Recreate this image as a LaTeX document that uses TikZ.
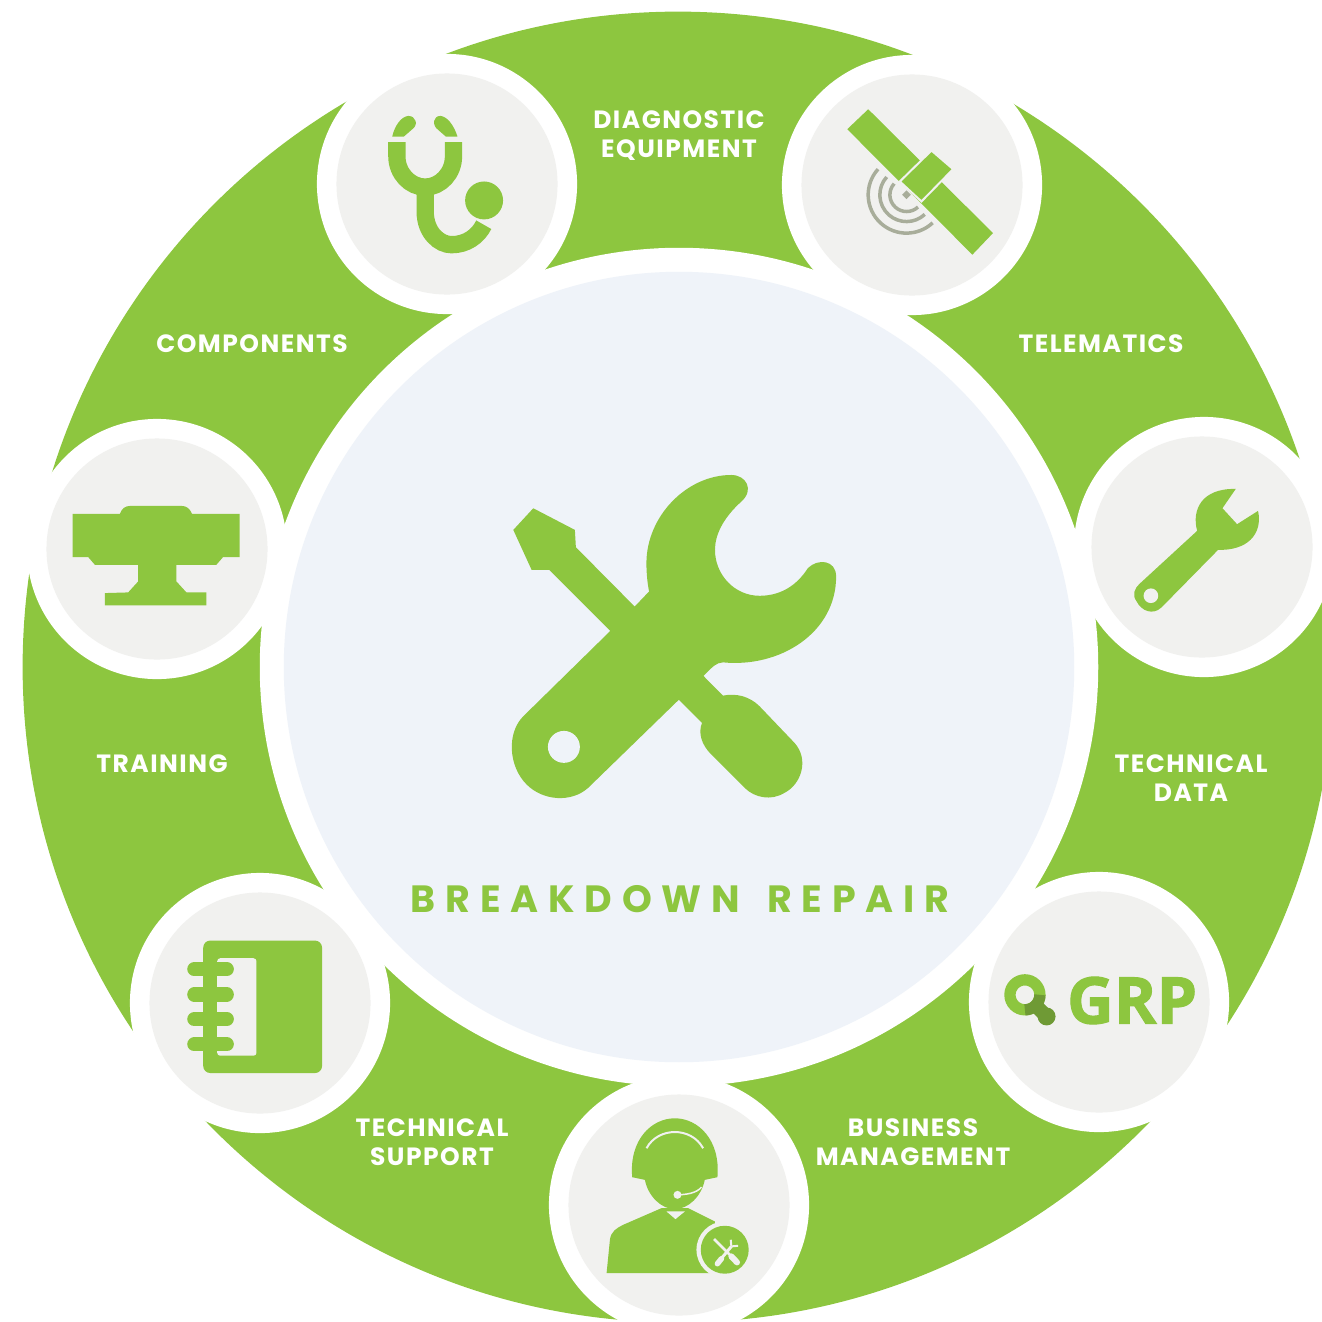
\documentclass[tikz,border=0pt]{standalone}
\usepackage{fontspec}
\newfontfamily\labelfont[LetterSpace=6]{Poppins}
\newfontfamily\titlefont[LetterSpace=26]{Poppins}
\newfontfamily\grpfont[BoldFeatures={FakeBold=1.5}]{Open Sans}
\definecolor{leaf}{HTML}{8DC63F}
\definecolor{leafdark}{HTML}{6F9A35}
\definecolor{hubtint}{HTML}{EFF3F9}
\definecolor{facetint}{HTML}{F1F1EF}
\definecolor{ringgrey}{HTML}{A8AD9A}
\begin{document}
\begin{tikzpicture}
[x=0.01cm,y=-0.01cm,
  ringdecorate/.style={shape=circle,inner sep=0pt,fill=leaf,minimum size=13.1cm},%
  hubdecorate/.style={shape=circle,inner sep=0pt,fill=white,minimum size=8.38cm},%
  hubfacedecorate/.style={shape=circle,inner sep=0pt,fill=hubtint,minimum size=7.9cm},%
  padecorate/.style={shape=circle,inner sep=0pt,fill=white,minimum size=2.6cm},%
  facedecorate/.style={shape=circle,inner sep=0pt,fill=facetint,minimum size=2.21cm},%
  labeldecorate/.style={text=white,align=center,inner sep=0pt,font=\labelfont\bfseries\fontsize{7.1}{8}\selectfont},%
  titledecorate/.style={text=leaf,inner sep=0pt,font=\titlefont\bfseries\fontsize{10.8}{12}\selectfont},%
  zoomview/.style={x=0.003333cm,y=-0.003333cm}]
\useasboundingbox (0,0) rectangle (1322,1321);
\clip (0,0) rectangle (1322,1321);
%%% green ring and the pads on it
% discs
\node (ring) at (678,667) [ringdecorate] {};
\node (steth) at (447,184) [padecorate] {};
\node (satellite) at (912,185) [padecorate] {};
\node (trainer) at (157,549) [padecorate] {};
\node (notebook) at (260,1003) [padecorate] {};
\node (agent) at (679,1205) [padecorate] {};
\node (grp) at (1099,1002) [padecorate] {};
\node (spanner) at (1204,547) [padecorate] {};
\node (hub) at (679,667) [hubdecorate] {};
\node (hubface) at (679,667) [hubfacedecorate] {};
\node (stethface) at (steth) [facedecorate] {};
\node (satelliteface) at (satellite) [facedecorate] {};
\node (trainerface) at (trainer) [facedecorate] {};
\node (notebookface) at (notebook) [facedecorate] {};
\node (agentface) at (agent) [facedecorate] {};
\node (grpface) at (grp) [facedecorate] {};
\node (spannerface) at (1202,547) [facedecorate] {};
% labels
\node (diagnostic) at (679,136) [labeldecorate] {DIAGNOSTIC\\[0.3pt]EQUIPMENT};
\node (components) at (252,344) [labeldecorate] {COMPONENTS};
\node (telematics) at (1101,344) [labeldecorate] {TELEMATICS};
\node (training) at (162,764) [labeldecorate] {TRAINING};
\node (techdata) at (1191,778) [labeldecorate] {TECHNICAL\\[0.3pt]DATA};
\node (techsupport) at (432,1142) [labeldecorate] {TECHNICAL\\[0.3pt]SUPPORT};
\node (business) at (913,1142) [labeldecorate] {BUSINESS\\[0.3pt]MANAGEMENT};
\node (title) at (680,899) [titledecorate] {BREAKDOWN\hspace{2.5pt} REPAIR};
%
%%% crossed tools in the middle
\begin{scope}[shift={(490,460)},zoomview]
\fill[leaf] (130,145) -- (255,210) -- (258,262) -- (700,708)
  .. controls (740,700) and (780,710) .. (810,740) -- (915,850)
  .. controls (960,900) and (935,975) .. (885,1000)
  .. controls (845,1025) and (795,1015) .. (765,985) -- (665,885)
  .. controls (635,855) and (625,820) .. (637,790)
  -- (178,330) -- (125,330) -- (70,210) -- cycle;
\fill[leaf] (360,515) -- (100,770)
  .. controls (50,820) and (55,920) .. (110,975)
  .. controls (160,1025) and (245,1030) .. (295,985) -- (650,640)
  .. controls (665,625) and (680,608) .. (700,608)
  .. controls (870,625) and (1040,520) .. (1040,350)
  .. controls (1040,300) and (985,295) .. (955,325)
  .. controls (920,380) and (870,408) .. (810,408)
  .. controls (735,408) and (676,345) .. (676,270)
  .. controls (676,225) and (700,175) .. (755,125)
  .. controls (795,90) and (770,45) .. (725,45)
  .. controls (590,45) and (470,170) .. (470,310)
  .. controls (470,340) and (473,370) .. (478,395)
  -- (437,438) -- cycle;
\fill[hubtint] (222,862) circle[radius=48];
\end{scope}
%
%%% stethoscope
\begin{scope}[shift={(330,60)},zoomview]
\fill[leaf] (187,230) .. controls (195,195) and (215,170) .. (235,168)
  .. controls (258,168) and (268,195) .. (245,210) -- (222,230) -- cycle;
\fill[leaf] (383,230) .. controls (372,195) and (352,170) .. (332,168)
  .. controls (310,168) and (305,195) .. (325,210) -- (348,230) -- cycle;
\draw[leaf,line width=0.173cm] (201,247) -- (201,290)
  .. controls (201,340) and (240,382) .. (286,382)
  .. controls (332,382) and (371,340) .. (371,290) -- (371,247);
\draw[leaf,line width=0.173cm] (286,380) -- (286,455)
  .. controls (286,520) and (330,555) .. (365,555)
  .. controls (410,555) and (445,530) .. (462,495);
\fill[leaf] (463,422) circle[radius=57];
\end{scope}
%
%%% satellite
\begin{scope}[shift={(790,60)},zoomview]
\fill[ringgrey] (350,392) -- (363,405) -- (350,418) -- (337,405) -- cycle;
\draw[ringgrey,line width=0.035cm] (264.5,328) arc[start angle=138,end angle=313,radius=0.383cm];
\draw[ringgrey,line width=0.035cm] (290.5,351.5) arc[start angle=138,end angle=313,radius=0.267cm];
\draw[ringgrey,line width=0.035cm] (313,371.5) arc[start angle=138,end angle=313,radius=0.167cm];
\fill[leaf] (235,148) -- (610,520) -- (548,585) -- (172,208) -- cycle;
\draw[fill=leaf,draw=facetint,line width=0.02cm] (425,272) -- (490,328) -- (395,425) -- (330,365) -- cycle;
\end{scope}
%
%%% training machine
\begin{scope}[shift={(30,430)},zoomview]
\fill[leaf] (128,252) -- (270,252) .. controls (276,236) and (285,228) .. (302,228)
  -- (455,228) .. controls (470,228) and (480,236) .. (487,252)
  -- (630,252) -- (630,382) -- (580,382) -- (560,405) -- (440,405) -- (440,455)
  -- (470,488) -- (530,488) -- (530,527) -- (225,527) -- (225,490) -- (295,488)
  -- (325,455) -- (325,405) -- (195,405) -- (175,382) -- (128,382) -- cycle;
\end{scope}
%
%%% notebook
\begin{scope}[shift={(140,880)},zoomview]
\fill[leaf,rounded corners=0.07cm] (190,182) rectangle (547,580);
\fill[facetint,rounded corners=0.03cm] (232,235) rectangle (350,528);
\draw[leaf,line width=0.14cm,line cap=round] (163,268) -- (261,268);
\draw[leaf,line width=0.14cm,line cap=round] (163,344) -- (261,344);
\draw[leaf,line width=0.14cm,line cap=round] (163,418) -- (261,418);
\draw[leaf,line width=0.14cm,line cap=round] (163,494) -- (261,494);
\end{scope}
%
%%% agent with headset
\begin{scope}[shift={(555,1080)},zoomview]
\fill[leaf] (155,580) -- (165,480) .. controls (168,455) and (185,445) .. (205,435)
  -- (320,385) -- (400,385) -- (480,425) -- (480,580) -- cycle;
\fill[leaf] (232,292) .. controls (222,180) and (290,115) .. (360,115)
  .. controls (430,115) and (498,180) .. (488,292) -- (450,300)
  .. controls (440,350) and (400,388) .. (360,388)
  .. controls (320,388) and (280,350) .. (270,300) -- cycle;
\fill[facetint] (335,395) -- (362,418) -- (390,395) -- cycle;
\draw[facetint,line width=0.02cm] (275,205) .. controls (310,140) and (410,140) .. (445,205);
\draw[facetint,line width=0.015cm] (360,345) .. controls (395,345) and (425,340) .. (440,322);
\fill[facetint] (368,345) circle[radius=12];
\fill[facetint] (510,510) circle[radius=85];
\fill[leaf] (510,510) circle[radius=72];
\draw[facetint,line width=0.025cm] (478,478) -- (530,530);
\draw[facetint,line width=0.06cm,line cap=round] (530,530) -- (547,548);
\draw[facetint,line width=0.03cm] (490,548) -- (530,500);
\draw[facetint,line width=0.055cm,line cap=round] (488,552) -- (500,537);
\draw[facetint,line width=0.02cm] (530,500) -- (528,480);
\draw[facetint,line width=0.02cm] (530,500) -- (550,498);
\end{scope}
%
%%% GRP mark
\begin{scope}[shift={(975,880)},zoomview]
\draw[leaf,line width=0.113cm] (150,345) circle[radius=45];
\draw[leafdark,line width=0.113cm] (195,345) arc[start angle=0,end angle=-90,radius=0.15cm];
\draw[leafdark,line width=0.14cm] (185,380) -- (215,410);
\fill[leafdark] (215,410) circle[radius=27];
\node (grptext) at (472,362) [text=leaf,inner sep=0pt,font=\grpfont\bfseries\fontsize{18.4}{20}\selectfont] {GRP};
\end{scope}
%
%%% spanner
\begin{scope}[shift={(1080,425)},zoomview]
\fill[leaf] (352,318) .. controls (335,255) and (365,190) .. (468,192)
  -- (428,250) -- (472,298) -- (535,258)
  .. controls (550,330) and (500,378) .. (415,375) -- (245,548)
  .. controls (220,572) and (185,560) .. (170,530)
  .. controls (155,510) and (165,490) .. (178,478) -- cycle;
\fill[facetint] (213,513) circle[radius=22];
\end{scope}
\end{tikzpicture}
\end{document}
